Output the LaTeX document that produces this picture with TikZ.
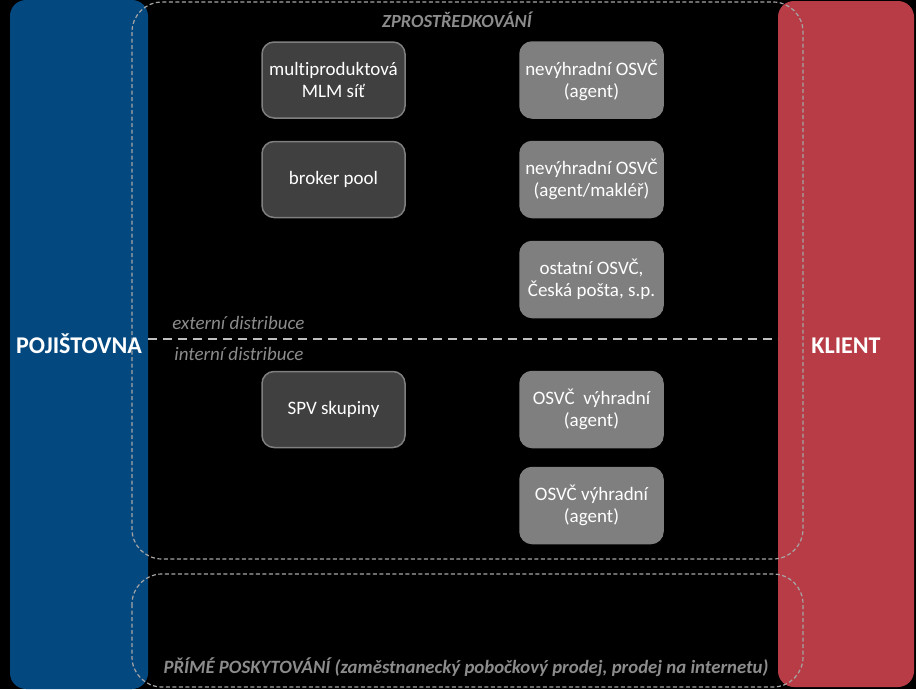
\documentclass[tikz,border=0pt]{standalone}
\usepackage{fontspec}
\setmainfont{Carlito}[Ligatures=NoCommon]
\usepackage{tikz}

\definecolor{PojBlue}{RGB}{4,72,128}
\definecolor{KlientRed}{RGB}{184,60,70}
\definecolor{BoxDark}{RGB}{64,64,64}
\definecolor{BoxGray}{RGB}{127,127,127}
\definecolor{LabelGray}{RGB}{140,140,140}
\definecolor{DashGray}{RGB}{165,165,165}
\definecolor{DivGray}{RGB}{191,191,191}

\begin{document}
\begin{tikzpicture}[x=1pt,y=-1pt,thick,
        darkbox/.style={draw=BoxGray,fill=BoxDark,line width=1.5pt,rounded corners=12pt,
            minimum width=143pt,minimum height=76pt,text=white,align=center,
            font=\fontsize{19}{22}\selectfont},
        graybox/.style={darkbox,fill=BoxGray},
        sidetext/.style={text=white,anchor=base,font=\fontsize{24}{28}\selectfont\bfseries},
        seclabel/.style={text=LabelGray,font=\fontsize{19}{22}\selectfont\itshape},
        frame/.style={DashGray,line width=1.2pt,dash pattern=on 4pt off 2.5pt,rounded corners=30pt}]
        \fill[black] (0,0) rectangle (916,689);
        \useasboundingbox (0,0) rectangle (916,689);
        \fill[PojBlue,rounded corners=16pt] (10,0) rectangle (148,689);
        \fill[KlientRed,rounded corners=16pt] (778,1) rectangle (914,687);
        \draw[frame] (132,2) rectangle (803,559);
        \draw[frame] (132,574) rectangle (803,687);
        \draw[DivGray,line width=2pt,dash pattern=on 9pt off 6pt] (148,339) -- (778,339);
        \node[sidetext] (poj) at (79,353) {POJIŠTOVNA};
        \node[sidetext] (klient) at (846,353) {KLIENT};
        \node[seclabel,anchor=base,font=\fontsize{18.5}{22}\selectfont\bfseries\itshape] (zpros) at (457,27) {ZPROSTŘEDKOVÁNÍ};
        \node[seclabel,anchor=base west,inner sep=0pt] (ext) at (172,329) {externí distribuce};
        \node[seclabel,anchor=base west,inner sep=0pt] (int) at (174,360) {interní distribuce};
        \node[seclabel,anchor=base,font=\fontsize{18.8}{22}\selectfont\bfseries\itshape] (prime) at (466,673) {PŘÍMÉ POSKYTOVÁNÍ (zaměstnanecký pobočkový prodej, prodej na internetu)};
        \node[darkbox] (mlm) at (333.5,80) {multiproduktová\\MLM síť};
        \node[darkbox] (broker) at (333.5,179.5) {broker pool};
        \node[darkbox] (spv) at (333.5,409.5) {SPV skupiny};
        \node[graybox] (agent) at (591.5,80) {nevýhradní OSVČ\\(agent)};
        \node[graybox] (makler) at (591.5,179.5) {nevýhradní OSVČ\\(agent/makléř)};
        \node[graybox] (posta) at (591.5,279.5) {ostatní OSVČ,\\Česká pošta, s.p.};
        \node[graybox] (vyhradni) at (591.5,409.5) {OSVČ~~výhradní\\(agent)};
        \node[graybox] (vyhradnib) at (591.5,505.5) {OSVČ výhradní\\(agent)};
    \end{tikzpicture}
\end{document}
